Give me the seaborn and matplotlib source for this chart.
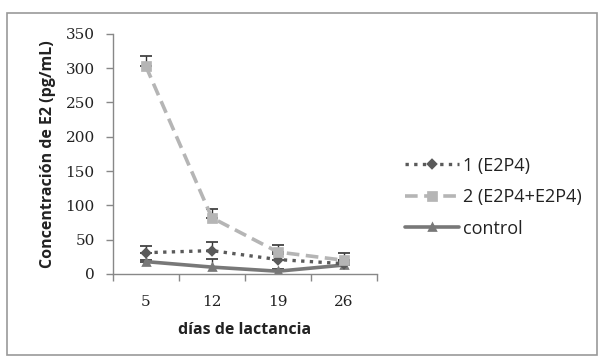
import numpy as np
import pandas as pd
import matplotlib
matplotlib.use("Agg")
import matplotlib.pyplot as plt
import seaborn as sns
from matplotlib.patches import Rectangle

days = ["5", "12", "19", "26"]
s1_name = "1 (E2P4)"
s2_name = "2 (E2P4+E2P4)"
s3_name = "control"
s1_vals = [31, 34, 21, 15]
s2_vals = [303, 82, 32, 20]
s3_vals = [18, 10, 4, 13]
s1_err = [10, 12, 8, 6]
s2_err = [15, 12, 10, 10]
s3_err = [3, 12, 3, 4]
y_ticks = [0, 50, 100, 150, 200, 250, 300, 350]

sns.set_theme(style="white")
plt.rcParams['font.family'] = ['Open Sans', 'DejaVu Sans']

df = pd.DataFrame({
    "dia": days * 3,
    "valor": s1_vals + s2_vals + s3_vals,
    "serie": [s1_name] * 4 + [s2_name] * 4 + [s3_name] * 4,
})

fig = plt.figure(figsize=(6, 3.6), dpi=100)
ax = fig.add_axes([0.188, 0.239, 0.44, 0.667])

colors = {s1_name: "#5a5a5a", s2_name: "#b5b5b5", s3_name: "#787878"}
styles = {s1_name: (0, (1, 1.6)), s2_name: (0, (3.5, 1.8)), s3_name: "-"}
markers = {s1_name: "D", s2_name: "s", s3_name: "^"}
msizes = {s1_name: 4.5, s2_name: 6, s3_name: 5}
errs = {s1_name: s1_err, s2_name: s2_err, s3_name: s3_err}
vals = {s1_name: s1_vals, s2_name: s2_vals, s3_name: s3_vals}

for name in [s3_name, s1_name, s2_name]:
    sub = df[df["serie"] == name]
    sns.pointplot(data=sub, x="dia", y="valor", order=days, color=colors[name],
                  linestyle=styles[name], marker=markers[name], markersize=msizes[name],
                  linewidth=2.6 if name != s1_name else 2.4, errorbar=None, ax=ax, label=name)
    ax.errorbar(range(len(days)), vals[name], yerr=[np.zeros(4), errs[name]],
                fmt="none", ecolor="#333333", elinewidth=1, capsize=4, capthick=1.2, zorder=1)

ax.set_ylim(0, 350)
ax.set_xlim(-0.5, 3.5)
ax.set_yticks(y_ticks)
ax.set_yticklabels([str(v) for v in y_ticks], family=['DejaVu Serif'], fontsize=11, color="#222222")
ax.set_xticks(range(4))
ax.set_xticklabels(days, family=['DejaVu Serif'], fontsize=11, color="#222222")
ax.set_xticks(np.arange(-0.5, 4, 1), minor=True)
ax.tick_params(axis="x", which="major", length=0, pad=15)
ax.tick_params(axis="x", which="minor", length=5, width=1, color="#888888", direction="out", bottom=True)
ax.tick_params(axis="y", which="major", length=5, width=1, color="#888888", direction="out", left=True, pad=8)
for s in ["top", "right"]:
    ax.spines[s].set_visible(False)
for s in ["left", "bottom"]:
    ax.spines[s].set_color("#888888")
    ax.spines[s].set_linewidth(1)

ax.set_xlabel("días de lactancia", fontsize=11.5, fontweight="bold", color="#222222", va="center")
ax.set_ylabel("Concentración de E2 (pg/mL)", fontsize=11.5, fontweight="bold", color="#222222", va="center")
ax.xaxis.set_label_coords(0.5, -0.233)
ax.yaxis.set_label_coords(-0.246, 0.5)

handles, labels = ax.get_legend_handles_labels()
order = [labels.index(n) for n in [s1_name, s2_name, s3_name]]
leg = ax.legend([handles[i] for i in order], [labels[i] for i in order],
                loc="center left", bbox_to_anchor=(1.106, 0.32), frameon=False,
                fontsize=13, handlelength=3.0, labelspacing=0.75, handletextpad=0.25,
                borderaxespad=0, borderpad=0)
for t in leg.get_texts():
    t.set_color("#222222")

fig.patches.append(Rectangle((0.012, 0.013), 0.983, 0.952, transform=fig.transFigure,
                             fill=False, edgecolor="#999999", linewidth=1.2))
fig.savefig("out.png", dpi=100)
